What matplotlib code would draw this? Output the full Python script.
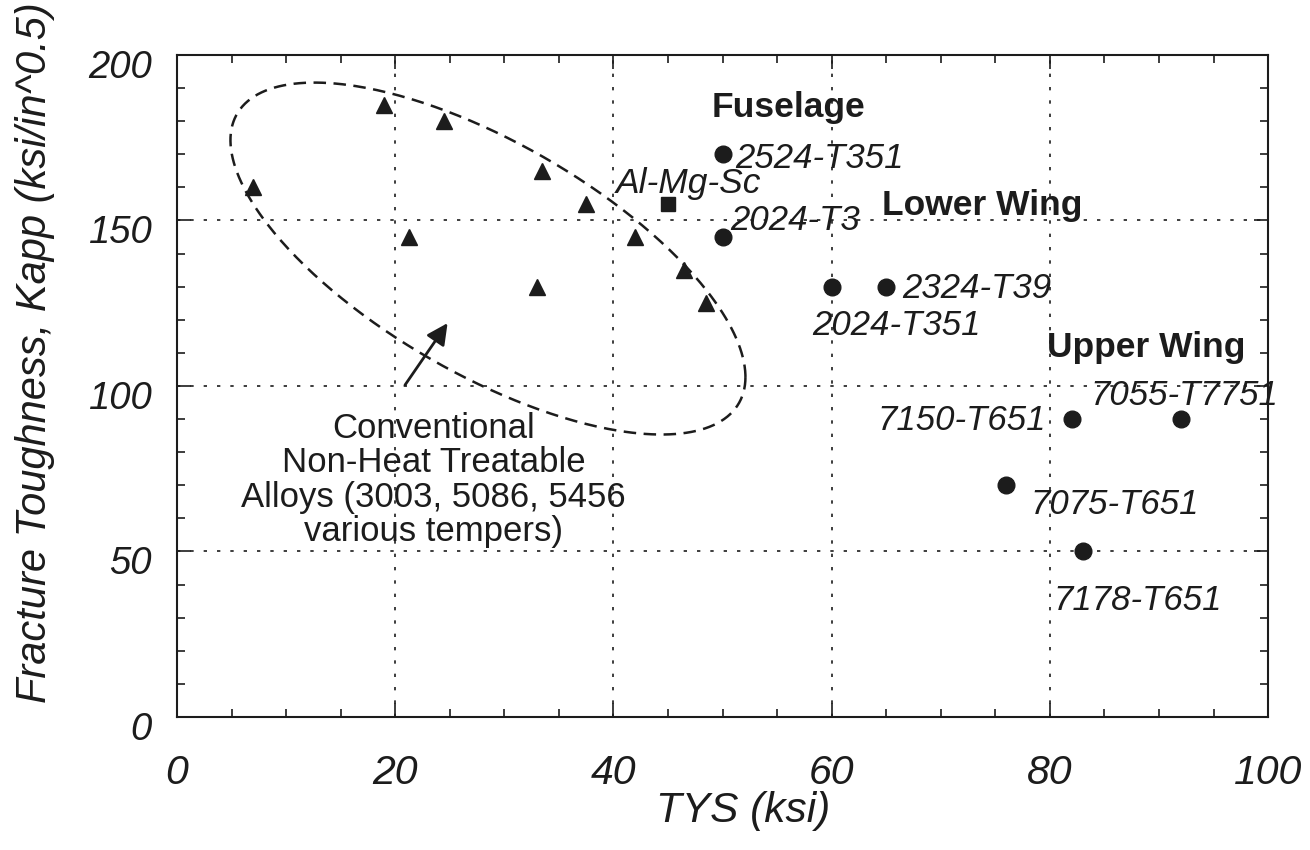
import numpy as np
import matplotlib
matplotlib.use("Agg")
import matplotlib.pyplot as plt
import matplotlib.transforms as mtransforms
from matplotlib.ticker import MultipleLocator

# ---- data ----
tri_x = [7, 19, 24.5, 21.3, 33.5, 37.5, 33, 42, 46.5, 48.5]
tri_y = [160, 185, 180, 145, 165, 155, 130, 145, 135, 125]

sq_x = [45]
sq_y = [155]

alloys = ["2524-T351", "2024-T3", "2024-T351", "2324-T39",
          "7150-T651", "7055-T7751", "7075-T651", "7178-T651"]
circ_x = [50, 50, 60, 65, 82, 92, 76, 83]
circ_y = [170, 145, 130, 130, 90, 90, 70, 50]

# label anchor (left, baseline) positions in data units
lab_x = [51.2, 50.7, 58.2, 66.5, 64.2, 83.7, 78.2, 80.3]
lab_y = [165.9, 147.1, 115.4, 126.6, 86.7, 94.3, 61.3, 32.3]

groups = ["Fuselage", "Lower Wing", "Upper Wing"]
grp_x = [49.0, 64.6, 79.7]
grp_y = [181.3, 151.7, 108.8]

xticks = [0, 20, 40, 60, 80, 100]
yticks = [0, 50, 100, 150, 200]

INK = "#1c1c1c"
FONT = ["Liberation Sans", "DejaVu Sans"]

plt.rcParams["font.family"] = FONT

fig = plt.figure(figsize=(13.1, 8.5), dpi=100)
ax = fig.add_axes([0.1351, 0.1565, 0.968 - 0.1351, 0.9353 - 0.1565])

ax.set_xlim(0, 100)
ax.set_ylim(0, 200)
ax.set_xticks(xticks)
ax.set_yticks(yticks)
ax.xaxis.set_minor_locator(MultipleLocator(5))
ax.yaxis.set_minor_locator(MultipleLocator(10))
ax.tick_params(which="both", direction="in", top=True, right=True,
               color=INK, width=1.2)
ax.tick_params(which="major", length=10)
ax.tick_params(which="minor", length=6)
ax.tick_params(axis="x", pad=27)
ax.tick_params(axis="y", pad=18)

ydown = mtransforms.ScaledTranslation(0, -9 / 100, fig.dpi_scale_trans)
for lab in ax.get_xticklabels():
    lab.set_fontstyle("italic")
    lab.set_fontsize(29.5)
    lab.set_color(INK)
for lab in ax.get_yticklabels():
    lab.set_fontstyle("italic")
    lab.set_fontsize(27.5)
    lab.set_color(INK)
    lab.set_transform(lab.get_transform() + ydown)

for s in ax.spines.values():
    s.set_linewidth(1.5)
    s.set_color(INK)

ax.grid(True, which="major", color=INK, linestyle=(0, (2, 6)), linewidth=1.2)
ax.set_axisbelow(True)

# markers
ax.plot(tri_x, tri_y, linestyle="none", marker="^", ms=12, color=INK, zorder=3)
ax.plot(sq_x, sq_y, linestyle="none", marker="s", ms=10, color=INK, zorder=3)
ax.plot(circ_x, circ_y, linestyle="none", marker="o", ms=12, color=INK, zorder=3)

for name, x, y in zip(alloys, lab_x, lab_y):
    ax.text(x, y, name, fontsize=25, fontstyle="italic", color=INK,
            ha="left", va="baseline", clip_on=False, zorder=4)

ax.text(40.2, 158.3, "Al-Mg-Sc", fontsize=25.5, fontstyle="italic", color=INK,
        ha="left", va="baseline", zorder=4)

for name, x, y in zip(groups, grp_x, grp_y):
    ax.text(x, y, name, fontsize=25.5, fontweight="bold", color=INK,
            ha="left", va="baseline", zorder=4)

# dashed ellipse enclosing conventional alloys
t = np.linspace(0, 2 * np.pi, 400)
ex = 28.5 + 23.6 * np.cos(t)
ey = 138.5 - 35.8 * np.cos(t) - 39.3 * np.sin(t)
ax.plot(ex, ey, color=INK, linestyle=(0, (5, 3)), linewidth=1.8, zorder=2)

# arrow and annotation
ax.annotate("", xy=(24.8, 119.0), xytext=(20.9, 100.3),
            arrowprops=dict(arrowstyle="-|>", color=INK, lw=2,
                            mutation_scale=32, shrinkA=0, shrinkB=0))
ax.text(23.5, 71.6,
        "Conventional\nNon-Heat Treatable\nAlloys (3003, 5086, 5456\nvarious tempers)",
        fontsize=25, color=INK, ha="center", va="center", linespacing=1.05,
        zorder=4)

ax.set_xlabel("TYS (ksi)", fontsize=30.5, fontstyle="italic", color=INK)
ax.xaxis.set_label_coords(0.519, -0.112)
ax.set_ylabel("Fracture Toughness, Kapp (ksi/in^0.5)", fontsize=30,
              fontstyle="italic", color=INK)
ax.yaxis.set_label_coords(-0.112, 0.551)

fig.savefig("out.png", dpi=100, facecolor="white")
